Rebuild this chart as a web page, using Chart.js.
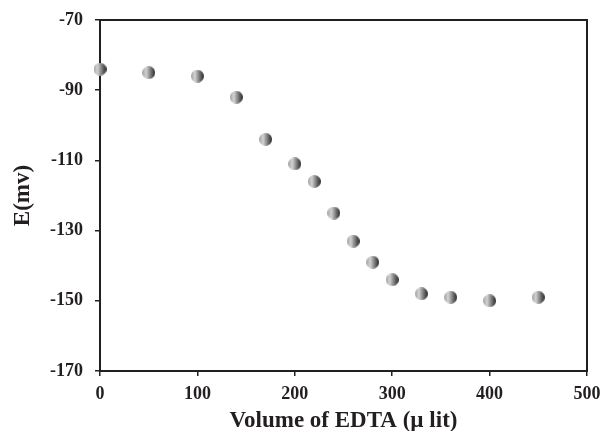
<!DOCTYPE html>
<html>
<head>
<meta charset="utf-8">
<script src="https://cdn.jsdelivr.net/npm/chart.js@4/dist/chart.umd.min.js"></script>
<style>
  html, body { margin: 0; padding: 0; background: #fff; }
  #wrap { width: 603px; height: 431px; }
</style>
</head>
<body>
<div id="wrap"><canvas id="edtaChart"></canvas></div>
<script>
const volumes = [0, 50, 100, 140, 170, 200, 220, 240, 260, 280, 300, 330, 360, 400, 450];
const potentials = [-84, -85, -86, -92, -104, -111, -116, -125, -133, -139, -144, -148, -149, -150, -149];
const xTicks = [0, 100, 200, 300, 400, 500];
const yTicks = [-170, -150, -130, -110, -90, -70];

// shaded ball marker
function makeBall(d) {
  const c = document.createElement("canvas");
  c.width = d; c.height = d;
  const ctx = c.getContext("2d");
  const g = ctx.createLinearGradient(0, 0, d, 0);
  g.addColorStop(0, "#9c9c9c");
  g.addColorStop(0.3, "#d4d4d4");
  g.addColorStop(0.65, "#7a7a7a");
  g.addColorStop(1, "#262626");
  ctx.fillStyle = g;
  ctx.beginPath();
  ctx.arc(d / 2, d / 2, d / 2, 0, Math.PI * 2);
  ctx.fill();
  return c;
}
const ball = makeBall(13);

// box round the plot area, under the markers
const frame = {
  id: "frame",
  beforeDatasetsDraw(chart) {
    const { ctx, chartArea: a } = chart;
    ctx.save();
    ctx.strokeStyle = "#231f20";
    ctx.lineWidth = 2;
    ctx.strokeRect(a.left, a.top, a.right - a.left, a.bottom - a.top);
    ctx.restore();
  }
};

const font = { family: "'Liberation Serif', 'Times New Roman', serif", weight: "bold" };

new Chart(document.getElementById("edtaChart"), {
  type: "scatter",
  data: {
    datasets: [{
      data: volumes.map((v, i) => ({ x: v, y: potentials[i] })),
      pointStyle: ball,
      pointRadius: 6.5,
      pointHoverRadius: 6.5,
      clip: false
    }]
  },
  options: {
    responsive: true,
    maintainAspectRatio: false,
    animation: false,
    layout: { padding: { top: 20, right: 16, left: 0, bottom: 0 } },
    plugins: { legend: { display: false }, tooltip: { enabled: false } },
    scales: {
      x: {
        type: "linear",
        min: 0, max: 500,
        afterBuildTicks: s => { s.ticks = xTicks.map(v => ({ value: v })); },
        afterFit: s => { s.height = 60; s.paddingLeft = 0; s.paddingRight = 0; },
        grid: { drawOnChartArea: false, color: "#231f20", tickLength: 5, lineWidth: 1.5 },
        border: { color: "#231f20", width: 2 },
        ticks: { color: "#231f20", font: { ...font, size: 18 }, padding: 8 },
        title: { display: true, text: "Volume of EDTA (\u00b5 lit)", color: "#231f20", font: { ...font, size: 23 }, padding: { top: 0, bottom: -4 } }
      },
      y: {
        type: "linear",
        min: -170, max: -70,
        afterBuildTicks: s => { s.ticks = yTicks.map(v => ({ value: v })); },
        afterFit: s => { s.width = 100; s.paddingTop = 0; s.paddingBottom = 0; },
        grid: { drawOnChartArea: false, color: "#231f20", tickLength: 5, lineWidth: 1.5 },
        border: { color: "#231f20", width: 2 },
        ticks: { color: "#231f20", font: { ...font, size: 18 }, padding: 12 },
        title: { display: true, text: "E(mv)", color: "#231f20", font: { ...font, size: 23 }, padding: { top: 9, bottom: 0 } }
      }
    }
  },
  plugins: [frame]
});
</script>
</body>
</html>
